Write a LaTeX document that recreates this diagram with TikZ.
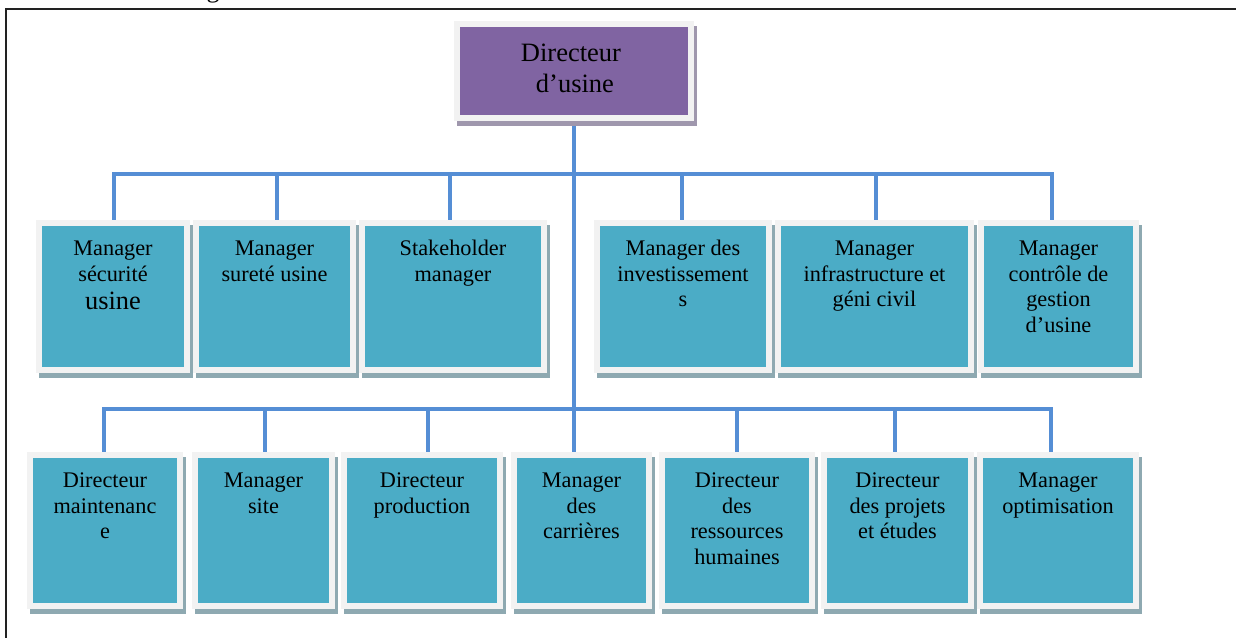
\documentclass[tikz,border=0pt]{standalone}
\usepackage{fontspec}
\setmainfont{Liberation Serif}
\usetikzlibrary{shadows,backgrounds}
\definecolor{tealbox}{HTML}{4BACC6}
\definecolor{purplebox}{HTML}{8064A2}
\definecolor{framegray}{HTML}{F2F2F2}
\definecolor{shadowteal}{HTML}{8EA9B1}
\definecolor{shadowpurple}{HTML}{9F97AD}
\definecolor{linkblue}{HTML}{558ED5}
\definecolor{pageframe}{HTML}{222222}
\begin{document}
\begin{tikzpicture}[x=1pt,y=-1pt,
  rbox/.style={rectangle, fill=tealbox, draw=framegray, line width=6pt, inner sep=0pt,
    minimum height=147pt,
    general shadow={fill=shadowteal, draw=shadowteal, line width=6pt, shadow xshift=3pt, shadow yshift=-5pt}},
  rboxb/.style={rbox, minimum height=151pt},
  topbox/.style={rectangle, fill=purplebox, draw=framegray, line width=6.5pt, inner sep=0pt,
    minimum width=234pt, minimum height=94pt,
    general shadow={fill=shadowpurple, draw=shadowpurple, line width=6.5pt, shadow xshift=3pt, shadow yshift=-5pt}},
  txt/.style={anchor=north, align=center, inner sep=0pt, text=black,
    font=\fontsize{22.3}{25.8}\selectfont},
  toptxt/.style={anchor=north, align=center, inner sep=0pt, text=black,
    font=\fontsize{26.5}{31}\selectfont},
  link/.style={draw=linkblue, line width=4.5pt},
  pframe/.style={draw=pageframe, line width=1.6pt}
]
\useasboundingbox (0,0) rectangle (1236,637);

% page frame and cut-off text
\coordinate (fbl) at (6,640);
\coordinate (ftl) at (6,9);
\coordinate (ftr) at (1240,9);
\draw[pframe] (fbl) -- (ftl) -- (ftr);
\begin{scope}
\clip (0,0) rectangle (1236,637);
\node[anchor=base, inner sep=0pt, font=\fontsize{26}{26}\selectfont] (frag) at (213,-2.5) {g};
\end{scope}

% top box
\node[topbox] (top) at (574,71) {};
\node[toptxt] (topt) at (571,39) {\rule{0pt}{22pt}Directeur\\\hspace*{0.3em}d’usine};

% row 1
\node[rbox, minimum width=148pt] (r1a) at (113,296.5) {};
\node[rbox, minimum width=157pt] (r1b) at (274.5,296.5) {};
\node[rbox, minimum width=182pt] (r1c) at (453,296.5) {};
\node[rbox, minimum width=172pt] (r1d) at (683,296.5) {};
\node[rbox, minimum width=193pt] (r1e) at (874.5,296.5) {};
\node[rbox, minimum width=155pt] (r1f) at (1058.5,296.5) {};

\node[txt] (t1a) at (113,237) {\rule{0pt}{18pt}Manager\\sécurité\\[3pt]{\fontsize{26.4}{25.8}\selectfont usine}};
\node[txt] (t1b) at (274.5,237) {\rule{0pt}{18pt}Manager\\sureté usine};
\node[txt] (t1c) at (453,237) {\rule{0pt}{18pt}Stakeholder\\manager};
\node[txt] (t1d) at (683,237) {\rule{0pt}{18pt}Manager des\\investissement\\s};
\node[txt] (t1e) at (874.5,237) {\rule{0pt}{18pt}Manager\\infrastructure et\\géni civil};
\node[txt] (t1f) at (1058.5,237) {\rule{0pt}{18pt}Manager\\contrôle de\\gestion\\d’usine};

% row 2
\node[rboxb, minimum width=150pt] (r2a) at (105,530.5) {};
\node[rboxb, minimum width=137pt] (r2b) at (263.5,530.5) {};
\node[rboxb, minimum width=156pt] (r2c) at (422,530.5) {};
\node[rboxb, minimum width=135pt] (r2d) at (581.5,530.5) {};
\node[rboxb, minimum width=150pt] (r2e) at (737,530.5) {};
\node[rboxb, minimum width=147pt] (r2f) at (897.5,530.5) {};
\node[rboxb, minimum width=156pt] (r2g) at (1058,530.5) {};

\node[txt] (t2a) at (105,469) {\rule{0pt}{18pt}Directeur\\maintenanc\\e};
\node[txt] (t2b) at (263.5,469) {\rule{0pt}{18pt}Manager\\site};
\node[txt] (t2c) at (422,469) {\rule{0pt}{18pt}Directeur\\production};
\node[txt] (t2d) at (581.5,469) {\rule{0pt}{18pt}Manager\\des\\carrières};
\node[txt] (t2e) at (737,469) {\rule{0pt}{18pt}Directeur\\des\\ressources\\humaines};
\node[txt] (t2f) at (897.5,469) {\rule{0pt}{18pt}Directeur\\des projets\\et études};
\node[txt] (t2g) at (1058,469) {\rule{0pt}{18pt}Manager\\optimisation};

% bus junctions
\coordinate (j1a) at (114,174);
\coordinate (j1b) at (277,174);
\coordinate (j1c) at (450,174);
\coordinate (j1d) at (682,174);
\coordinate (j1e) at (876,174);
\coordinate (j1f) at (1052,174);
\coordinate (j2a) at (104,409);
\coordinate (j2b) at (265,409);
\coordinate (j2c) at (428,409);
\coordinate (j2d) at (574,409);
\coordinate (j2e) at (737,409);
\coordinate (j2f) at (895,409);
\coordinate (j2g) at (1051,409);

\begin{scope}[on background layer]
\draw[link] (top.south) -- (top.south |- r2d.north);
\draw[link] (j1a |- r1a.north) -- (j1a) -- (j1f) -- (j1f |- r1f.north);
\draw[link] (j1b) -- (j1b |- r1b.north);
\draw[link] (j1c) -- (j1c |- r1c.north);
\draw[link] (j1d) -- (j1d |- r1d.north);
\draw[link] (j1e) -- (j1e |- r1e.north);
\draw[link] (j2a |- r2a.north) -- (j2a) -- (j2g) -- (j2g |- r2g.north);
\draw[link] (j2b) -- (j2b |- r2b.north);
\draw[link] (j2c) -- (j2c |- r2c.north);
\draw[link] (j2e) -- (j2e |- r2e.north);
\draw[link] (j2f) -- (j2f |- r2f.north);
\end{scope}
\end{tikzpicture}
\end{document}
